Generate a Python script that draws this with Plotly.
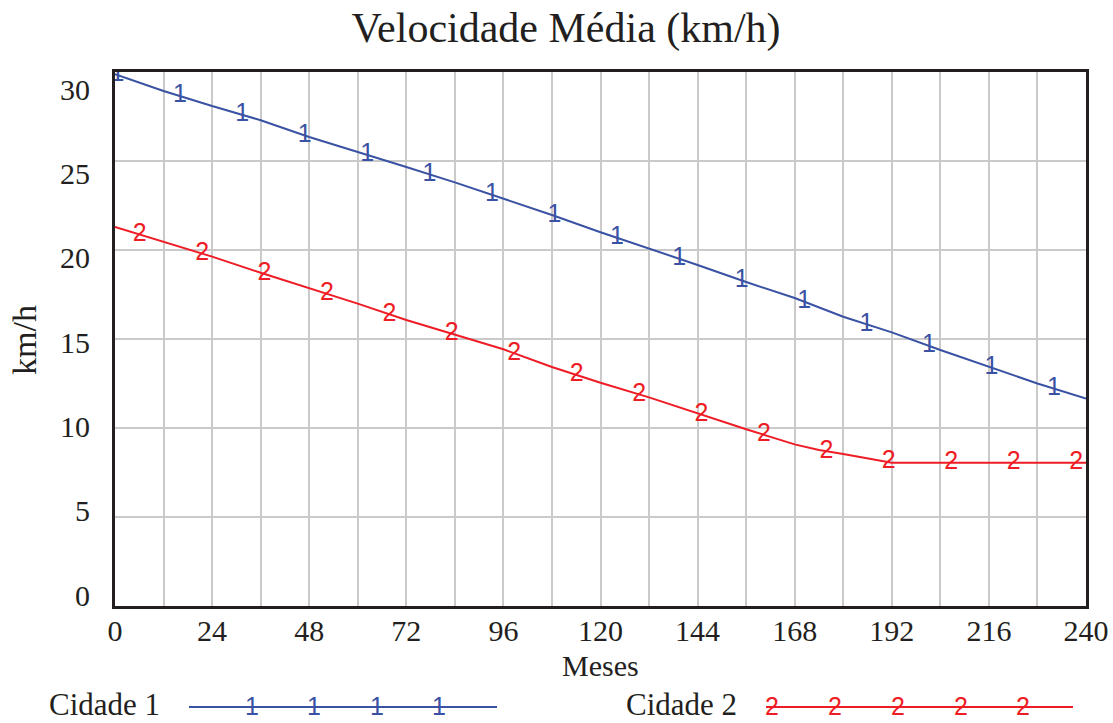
import numpy as np
import plotly.graph_objects as go

# Average speed (km/h) per month for two cities
months_1 = [0, 12, 24, 36, 48, 60, 72, 84, 96, 108, 120, 132, 144, 156, 168, 180, 192, 204, 216, 228, 240]
cidade_1 = [29.87, 28.93, 28.09, 27.29, 26.35, 25.52, 24.66, 23.8, 22.9, 21.97, 21.0, 20.1,
            19.16, 18.2, 17.3, 16.25, 15.37, 14.38, 13.43, 12.5, 11.65]

months_2 = [0, 12, 24, 36, 48, 60, 72, 84, 96, 108, 120, 132, 144, 156, 168, 174, 180, 186, 192,
            204, 216, 228, 240]
cidade_2 = [21.29, 20.47, 19.63, 18.72, 17.87, 16.99, 16.07, 15.26, 14.42, 13.43, 12.54, 11.72,
            10.81, 9.93, 9.08, 8.76, 8.54, 8.29, 8.05, 8.05, 8.05, 8.05, 8.05]

x_ticks = [0, 24, 48, 72, 96, 120, 144, 168, 192, 216, 240]
y_ticks = [0, 5, 10, 15, 20, 25, 30]

series_names = ["Cidade 1", "Cidade 2"]
BLUE = "#3a52a3"
RED = "#ee1c25"
INK = "#231f20"
GRID = "#cacaca"
SERIF = "Liberation Serif, Times New Roman, serif"
SANS = "Liberation Sans, Arial, sans-serif"

W, H = 1113, 723
ML, MR, MT, MB = 115, 27, 72, 117
PW, PH = W - ML - MR, H - MT - MB


def px_x(x):
    return (x - ML) / PW


def px_y(y):
    return (H - MB - y) / PH


# digit markers placed along each curve at a fixed month step
STEP = 15.43
mark_1 = [0.6 + STEP * k for k in range(16)]
mark_2 = [6.1 + STEP * k for k in range(16)]
DIGIT_SIZE = 25

fig = go.Figure()

for mx, my, mk, color, digit in [
    (months_1, cidade_1, mark_1, BLUE, "1"),
    (months_2, cidade_2, mark_2, RED, "2"),
]:
    fig.add_trace(go.Scatter(x=mx, y=my, mode="lines",
                             line=dict(color=color, width=2), showlegend=False,
                             hoverinfo="skip"))
    fig.add_trace(go.Scatter(x=mk, y=np.interp(mk, mx, my), mode="text",
                             text=[digit] * len(mk), textposition="middle center",
                             textfont=dict(family=SANS, size=DIGIT_SIZE, color=color),
                             showlegend=False, hoverinfo="skip"))

# invisible trace that carries the labelled y axis
fig.add_trace(go.Scatter(x=[0], y=[0], yaxis="y2", mode="markers",
                         marker=dict(opacity=0), showlegend=False, hoverinfo="skip"))

fig.update_layout(
    width=W, height=H,
    margin=dict(l=ML, r=MR, t=MT, b=MB, autoexpand=False),
    paper_bgcolor="white", plot_bgcolor="white",
    title=dict(text="Velocidade Média (km/h)", x=566 / W, xanchor="center",
               y=1 - 27 / H, yanchor="middle",
               font=dict(family=SERIF, size=42, color=INK)),
    xaxis=dict(range=[0, 240], tickvals=x_ticks, ticktext=[str(t) for t in x_ticks],
               automargin=False,
               showgrid=True, gridcolor=GRID, gridwidth=2,
               minor=dict(dtick=12, tick0=0, showgrid=True, gridcolor=GRID, gridwidth=2),
               showline=True, linecolor=INK, linewidth=3, mirror=True,
               ticks="", ticklabelstandoff=-4, zeroline=False,
               tickfont=dict(family=SERIF, size=30, color=INK)),
    yaxis=dict(range=[0, 30], dtick=5, showticklabels=False, automargin=False,
               showgrid=True, gridcolor=GRID, gridwidth=2,
               showline=True, linecolor=INK, linewidth=3, mirror=True,
               ticks="", zeroline=False),
    yaxis2=dict(range=[-0.65, 31.02], overlaying="y", side="left", automargin=False,
                tickvals=y_ticks, ticktext=[str(t) for t in y_ticks],
                showgrid=False, zeroline=False, showline=False, ticks="",
                ticklabelstandoff=24,
                tickfont=dict(family=SERIF, size=30, color=INK)),
)

ann = []
ann.append(dict(text="Meses", x=px_x(600), y=px_y(665), xref="paper", yref="paper",
                showarrow=False, xanchor="center", yanchor="middle",
                font=dict(family=SERIF, size=30, color=INK)))
ann.append(dict(text="km/h", x=px_x(24), y=px_y(340), xref="paper", yref="paper",
                showarrow=False, textangle=-90, xanchor="center", yanchor="middle",
                font=dict(family=SERIF, size=34, color=INK)))

# legend row under the axis
LEG_Y = 705
legend_rows = [
    (series_names[0], 48, 189, 497, [252, 314, 377, 439], BLUE, "1"),
    (series_names[1], 625, 766, 1073, [772, 835, 898, 961, 1023], RED, "2"),
]
for name, tx, lx0, lx1, marks, color, digit in legend_rows:
    ann.append(dict(text=name, x=px_x(tx), y=px_y(LEG_Y - 1), xref="paper", yref="paper",
                    showarrow=False, xanchor="left", yanchor="middle", borderpad=0,
                    font=dict(family=SERIF, size=31, color=INK)))
    fig.add_shape(type="line", xref="paper", yref="paper",
                  x0=px_x(lx0), x1=px_x(lx1), y0=px_y(LEG_Y + 2), y1=px_y(LEG_Y + 2),
                  line=dict(color=color, width=2))
    for m in marks:
        ann.append(dict(text=digit, x=px_x(m), y=px_y(LEG_Y + 1), xref="paper", yref="paper",
                        showarrow=False, xanchor="center", yanchor="middle", borderpad=0,
                        font=dict(family=SANS, size=DIGIT_SIZE, color=color)))

fig.update_layout(annotations=ann)
fig.write_html("out.html")
